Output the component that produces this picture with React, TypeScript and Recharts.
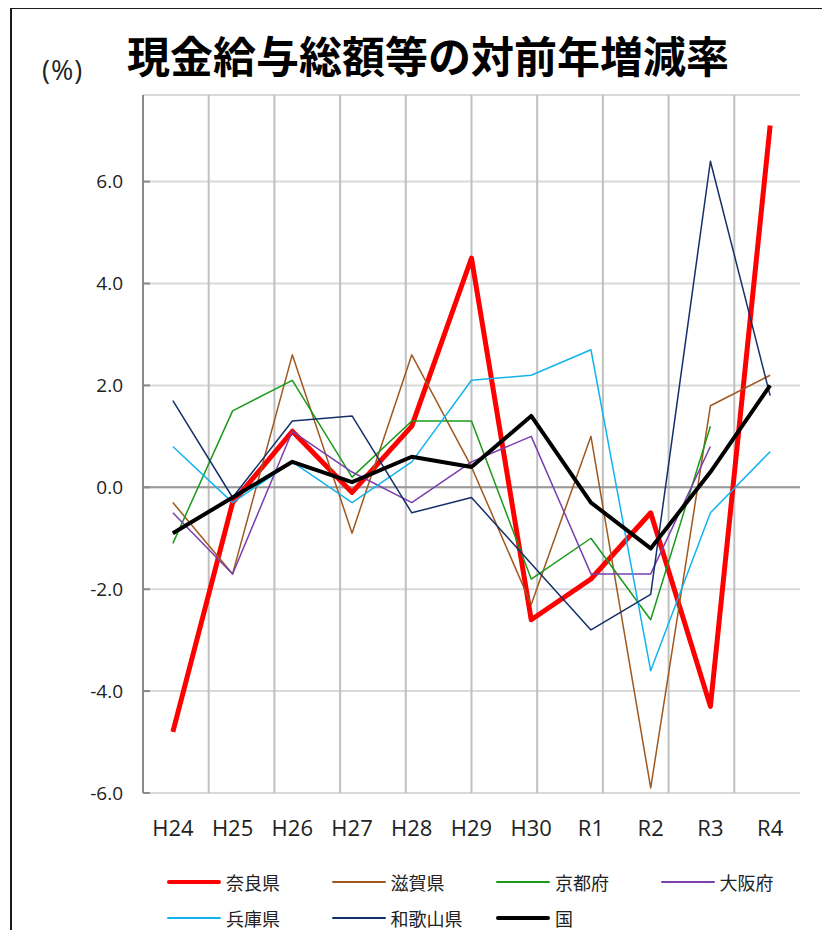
import React from "react";
import { CartesianGrid, Line, LineChart, ReferenceLine, XAxis, YAxis } from "recharts";

// 年度（カテゴリ）
const years = ["H24", "H25", "H26", "H27", "H28", "H29", "H30", "R1", "R2", "R3", "R4"];

// 各系列の対前年増減率 (%)
const nara = [-4.8, -0.3, 1.1, -0.1, 1.2, 4.5, -2.6, -1.8, -0.5, -4.3, 7.1];
const shiga = [-0.3, -1.7, 2.6, -0.9, 2.6, 0.4, -2.3, 1.0, -5.9, 1.6, 2.2];
const kyoto = [-1.1, 1.5, 2.1, 0.2, 1.3, 1.3, -1.8, -1.0, -2.6, 1.2, null];
const osaka = [-0.5, -1.7, 1.1, 0.3, -0.3, 0.5, 1.0, -1.7, -1.7, 0.8, null];
const hyogo = [0.8, -0.3, 0.5, -0.3, 0.5, 2.1, 2.2, 2.7, -3.6, -0.5, 0.7];
const wakayama = [1.7, -0.2, 1.3, 1.4, -0.5, -0.2, -1.5, -2.8, -2.1, 6.4, 1.8];
const kuni = [-0.9, -0.2, 0.5, 0.1, 0.6, 0.4, 1.4, -0.3, -1.2, 0.3, 2.0];

// Y軸目盛
const yTicks = [-6, -4, -2, 0, 2, 4, 6];
// 縦の補助線（プロット幅を10等分）
const gridDivisions = 10;

const series = [
    { key: "nara", name: "奈良県", values: nara, color: "#ff0000", width: 5, legendWidth: 4.5 },
    { key: "shiga", name: "滋賀県", values: shiga, color: "#a0581e", width: 1.5, legendWidth: 2 },
    { key: "kyoto", name: "京都府", values: kyoto, color: "#1a9a1a", width: 1.5, legendWidth: 2 },
    { key: "osaka", name: "大阪府", values: osaka, color: "#7a3fae", width: 1.5, legendWidth: 2 },
    { key: "hyogo", name: "兵庫県", values: hyogo, color: "#12b4ee", width: 1.5, legendWidth: 2 },
    { key: "wakayama", name: "和歌山県", values: wakayama, color: "#13306a", width: 1.5, legendWidth: 2 },
    { key: "kuni", name: "国", values: kuni, color: "#000000", width: 4, legendWidth: 4 },
];

const data = years.map((year, i) => {
    const row: Record<string, string | number | null> = { year };
    series.forEach((s) => {
        row[s.key] = s.values[i];
    });
    return row;
});

const FONT = "'Noto Sans CJK JP', 'Noto Sans', sans-serif";

function YTick(props: any) {
    const { x, y, payload } = props;
    return (
        <g>
            <text x={x} y={y} dy="0.355em" textAnchor="end" fontSize={19} fill="#222" fontFamily="'Open Sans', sans-serif">
                {Number(payload.value).toFixed(1)}
            </text>
            <line x1={x + 20} x2={x + 27} y1={y} y2={y} stroke="#8c8c8c" strokeWidth={2} />
        </g>
    );
}

function LegendBlock() {
    return (
        <div style={{ position: "absolute", left: 167, top: 864, width: 660, fontFamily: FONT }}>
            {series.map((s, i) => (
                <div
                    key={s.key}
                    style={{
                        position: "absolute",
                        left: (i % 4) * 164.5,
                        top: Math.floor(i / 4) * 36,
                        height: 36,
                        display: "flex",
                        alignItems: "center",
                    }}
                >
                    <div style={{ width: 54, height: s.legendWidth, background: s.color, borderRadius: 3 }} />
                    <span style={{ marginLeft: 5, fontSize: 18, color: "#222", whiteSpace: "nowrap" }}>{s.name}</span>
                </div>
            ))}
        </div>
    );
}

export default function App() {
    return (
        <div style={{ position: "relative", margin: -8, width: 830, height: 938, overflow: "hidden", background: "#fff" }}>
            <div
                style={{
                    position: "absolute",
                    left: 10,
                    top: 7,
                    width: 900,
                    height: 1000,
                    border: "2px solid #1a1a1a",
                }}
            />
            <div
                style={{
                    position: "absolute",
                    left: 0,
                    width: 856,
                    top: 33,
                    textAlign: "center",
                    fontFamily: FONT,
                    fontWeight: 700,
                    fontSize: 43,
                    lineHeight: 1,
                    color: "#000",
                }}
            >
                現金給与総額等の対前年増減率
            </div>
            <div
                style={{
                    position: "absolute",
                    left: 42,
                    top: 56,
                    fontFamily: "'Open Sans', sans-serif",
                    fontSize: 27,
                    lineHeight: 1,
                    letterSpacing: 1,
                    color: "#222",
                }}
            >
                (%)
            </div>
            <div style={{ position: "absolute", left: 0, top: 0 }}>
                <LineChart width={830} height={938} data={data} margin={{ top: 95, right: 30, bottom: 115, left: 0 }}>
                    <CartesianGrid
                        vertical={false}
                        horizontal
                        stroke="#d9d9d9"
                        strokeWidth={2}
                    />
                    <CartesianGrid
                        horizontal={false}
                        vertical
                        stroke="#c0c0c0"
                        strokeWidth={2}
                        verticalCoordinatesGenerator={({ offset }: any) =>
                            Array.from({ length: gridDivisions - 1 }, (_, k) => offset.left + (offset.width * (k + 1)) / gridDivisions)
                        }
                    />
                    <XAxis
                        dataKey="year"
                        scale="band"
                        axisLine={false}
                        tickLine={false}
                        tickMargin={21}
                        height={30}
                        interval={0}
                        tick={{ fontSize: 22, fill: "#222", fontFamily: "'Open Sans', sans-serif" }}
                    />
                    <YAxis
                        type="number"
                        domain={[-6, 7.7]}
                        ticks={yTicks}
                        allowDataOverflow
                        width={143}
                        tickLine={false}
                        tickMargin={14}
                        axisLine={{ stroke: "#8c8c8c", strokeWidth: 2 }}
                        tick={<YTick />}
                    />
                    <ReferenceLine y={0} stroke="#999999" strokeWidth={2} />
                    {series.map((s) => (
                        <Line
                            key={s.key}
                            type="linear"
                            dataKey={s.key}
                            name={s.name}
                            stroke={s.color}
                            strokeWidth={s.width}
                            dot={false}
                            activeDot={false}
                            strokeLinejoin="round"
                            isAnimationActive={false}
                        />
                    ))}
                </LineChart>
            </div>
            <LegendBlock />
        </div>
    );
}
